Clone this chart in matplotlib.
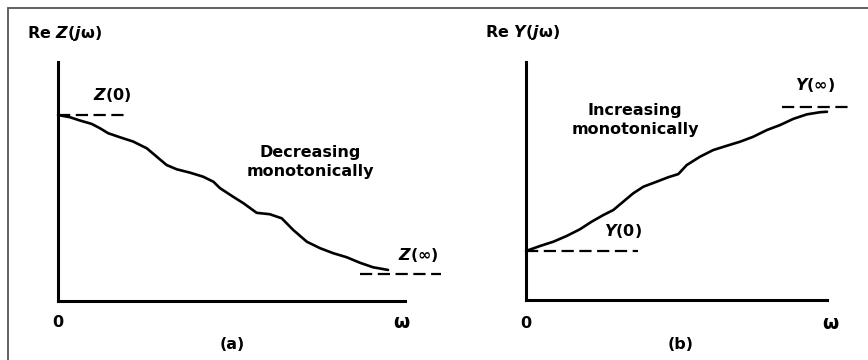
import matplotlib
matplotlib.use('Agg')
import matplotlib.pyplot as plt
from matplotlib.patches import Rectangle

plt.rcParams['font.family'] = ['DejaVu Sans']
plt.rcParams['font.weight'] = 'bold'
plt.rcParams['mathtext.fontset'] = 'custom'
plt.rcParams['mathtext.it'] = 'DejaVu Sans:italic:bold'
plt.rcParams['mathtext.rm'] = 'DejaVu Sans:bold'

# (a) Re Z(jw), decreasing
w_a = [0, 0.36, 0.67, 1.02, 1.27, 1.52, 1.88, 2.28, 2.69, 2.99, 3.29, 3.60, 4.00, 4.40,
       4.71, 4.91, 5.31, 5.62, 6.02, 6.42, 6.78, 7.13, 7.54, 7.94, 8.34, 8.75, 9.15, 9.55, 10.0]
re_z = [7.78, 7.69, 7.55, 7.41, 7.23, 7.02, 6.85, 6.67, 6.39, 6.04, 5.69, 5.51, 5.37, 5.20,
        4.99, 4.72, 4.36, 4.09, 3.69, 3.63, 3.46, 2.97, 2.48, 2.21, 2.00, 1.83, 1.60, 1.41, 1.30]
z0 = 7.78
z_inf = 1.13

# (b) Re Y(jw), increasing
w_b = [0, 0.47, 0.91, 1.35, 1.79, 2.18, 2.57, 2.90, 3.23, 3.56, 3.90, 4.34, 4.73, 5.06,
       5.34, 5.78, 6.22, 6.67, 7.11, 7.55, 8.00, 8.44, 8.88, 9.33, 9.77, 10.0]
re_y = [2.06, 2.27, 2.45, 2.69, 2.97, 3.29, 3.57, 3.78, 4.13, 4.48, 4.76, 4.97, 5.16, 5.29,
        5.67, 6.02, 6.30, 6.48, 6.65, 6.86, 7.14, 7.35, 7.61, 7.80, 7.89, 7.91]
y0 = 2.06
y_inf = 8.11

fig = plt.figure(figsize=(8.68, 3.6), dpi=100)
fig.add_artist(Rectangle((8 / 868, -0.1), 1.2, 1 - 8 / 360 + 0.1, transform=fig.transFigure,
                         fill=False, edgecolor='#555555', linewidth=1.3))

W, H = 868, 360


def make_axes(px0, px1, py0, py1, ox, oy, sx, sy):
    # pixel box -> data limits with origin (ox, oy) and pixels-per-unit (sx, sy)
    ax = fig.add_axes([px0 / W, (H - py1) / H, (px1 - px0) / W, (py1 - py0) / H])
    ax.set_xlim((px0 - ox) / sx, (px1 - ox) / sx)
    ax.set_ylim((oy - py1) / sy, (oy - py0) / sy)
    ax.patch.set_alpha(0)
    for s in ['top', 'right']:
        ax.spines[s].set_visible(False)
    ax.spines['left'].set_position(('data', 0))
    ax.spines['bottom'].set_position(('data', 0))
    ax.spines['left'].set_bounds(0, 10)
    ax.spines['left'].set_linewidth(2.2)
    ax.spines['bottom'].set_linewidth(2.2)
    ax.set_xticks([])
    ax.set_yticks([])
    return ax


fs = 11.5

ax1 = make_axes(20, 445, 20, 355, 58, 301, 33.0, 23.9)
ax1.spines['bottom'].set_bounds(0, 10.5)
ax1.plot(w_a, re_z, color='black', lw=1.9, solid_capstyle='round', solid_joinstyle='round')
ax1.plot([0, 2.12], [z0, z0], color='black', lw=1.6, dashes=(5.5, 2.5))
ax1.plot([9.15, 11.6], [z_inf, z_inf], color='black', lw=1.6, dashes=(5.5, 2.5))
ax1.text(-0.94, 11.21, r'Re $Z$($j$ω)', fontsize=fs, ha='left', va='center')
ax1.text(1.64, 8.62, r'$Z$(0)', fontsize=fs, ha='center', va='center')
ax1.text(10.91, 1.92, r'$Z$(∞)', fontsize=fs, ha='center', va='center')
ax1.text(7.64, 5.82, 'Decreasing\nmonotonically', fontsize=fs, ha='center', va='center',
         linespacing=1.3)
ax1.text(0, -0.92, '0', fontsize=fs, ha='center', va='center')
ax1.text(10.42, -0.92, 'ω', fontsize=fs + 2, ha='center', va='center')
ax1.text(5.27, -1.84, '(a)', fontsize=fs, ha='center', va='center')

ax2 = make_axes(450, 862, 20, 355, 526, 300, 30.1, 23.8)
ax2.spines['bottom'].set_bounds(0, 10.0)
ax2.plot(w_b, re_y, color='black', lw=1.9, solid_capstyle='round', solid_joinstyle='round')
ax2.plot([0, 3.72], [y0, y0], color='black', lw=1.6, dashes=(5.5, 2.5))
ax2.plot([8.5, 10.76], [y_inf, y_inf], color='black', lw=1.6, dashes=(5.5, 2.5))
ax2.text(-1.36, 11.22, r'Re $Y$($j$ω)', fontsize=fs, ha='left', va='center')
ax2.text(9.60, 9.03, r'$Y$(∞)', fontsize=fs, ha='center', va='center')
ax2.text(3.22, 2.90, r'$Y$(0)', fontsize=fs, ha='center', va='center')
ax2.text(3.62, 7.56, 'Increasing\nmonotonically', fontsize=fs, ha='center', va='center',
         linespacing=1.3)
ax2.text(0, -0.97, '0', fontsize=fs, ha='center', va='center')
ax2.text(10.1, -0.97, 'ω', fontsize=fs + 2, ha='center', va='center')
ax2.text(5.15, -1.89, '(b)', fontsize=fs, ha='center', va='center')

fig.savefig('out.png', dpi=100)
